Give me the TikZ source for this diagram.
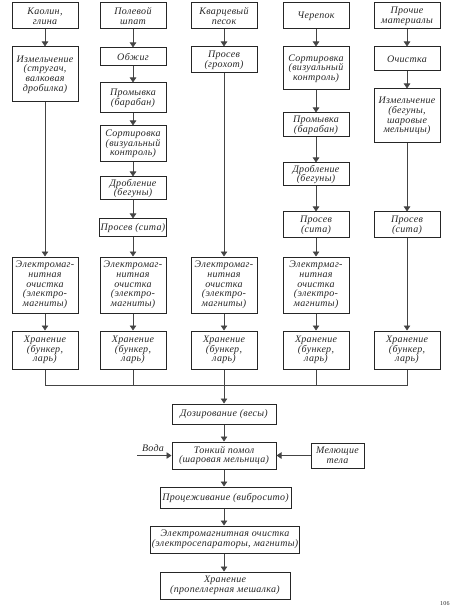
\documentclass[tikz,border=0pt]{standalone}
\usepackage{fontspec}
\setmainfont{Liberation Serif}[LetterSpace=3]
\usetikzlibrary{arrows.meta}
\definecolor{ink}{HTML}{262626}
\definecolor{lineink}{HTML}{444444}
\tikzset{
  box/.style={draw=ink, line width=1pt, text=ink, align=center, inner sep=1pt,
    font=\itshape\fontsize{10}{9.7}\selectfont},
  colbox/.style={box, minimum width=66pt},
  arr/.style={draw=lineink, line width=0.7pt, -{Triangle[length=5pt,width=6.5pt]}},
  ln/.style={draw=lineink, line width=0.7pt},
  lbl/.style={text=ink, font=\itshape\fontsize{10}{9.7}\selectfont, inner sep=0pt}
}
\begin{document}
\begin{tikzpicture}[x=1pt,y=-1pt]
\useasboundingbox (0,0) rectangle (453,609);
% column 1
\node[colbox, minimum height=26pt] (k1) at (45,16) {Каолин,\\глина};
\node[colbox, minimum height=55pt] (k2) at (45,74.5) {Измельчение\\(стругач,\\валковая\\дробилка)};
\node[colbox, minimum height=56pt] (k3) at (45,285) {Электромаг-\\нитная\\очистка\\(электро-\\магниты)};
\node[colbox, minimum height=38pt] (k4) at (45,350) {Хранение\\(бункер,\\ларь)};
% column 2
\node[colbox, minimum height=26pt] (p1) at (133,16) {Полевой\\шпат};
\node[colbox, minimum height=18pt] (p2) at (133,57) {Обжиг};
\node[colbox, minimum height=30pt] (p3) at (133,98) {Промывка\\(барабан)};
\node[colbox, minimum height=36pt] (p4) at (133,144) {Сортировка\\(визуальный\\контроль)};
\node[colbox, minimum height=23pt] (p5) at (133,188.5) {Дробление\\(бегуны)};
\node[colbox, minimum height=18pt] (p6) at (133,228) {Просев (сита)};
\node[colbox, minimum height=56pt] (p7) at (133,285) {Электромаг-\\нитная\\очистка\\(электро-\\магниты)};
\node[colbox, minimum height=38pt] (p8) at (133,350) {Хранение\\(бункер,\\ларь)};
% column 3
\node[colbox, minimum height=26pt] (q1) at (224,16) {Кварцевый\\песок};
\node[colbox, minimum height=26pt] (q2) at (224,60) {Просев\\(грохот)};
\node[colbox, minimum height=56pt] (q3) at (224,285) {Электромаг-\\нитная\\очистка\\(электро-\\магниты)};
\node[colbox, minimum height=38pt] (q4) at (224,350) {Хранение\\(бункер,\\ларь)};
% column 4
\node[colbox, minimum height=26pt] (c1) at (316,16) {Черепок};
\node[colbox, minimum height=43pt] (c2) at (316,68.5) {Сортировка\\(визуальный\\контроль)};
\node[colbox, minimum height=24pt] (c3) at (316,125) {Промывка\\(барабан)};
\node[colbox, minimum height=23pt] (c4) at (316,174.5) {Дробление\\(бегуны)};
\node[colbox, minimum height=26pt] (c5) at (316,225) {Просев\\(сита)};
\node[colbox, minimum height=56pt] (c6) at (316,285) {Электрмаг-\\нитная\\очистка\\(электро-\\магниты)};
\node[colbox, minimum height=38pt] (c7) at (316,350) {Хранение\\(бункер,\\ларь)};
% column 5
\node[colbox, minimum height=26pt] (o1) at (407,16) {Прочие\\материалы};
\node[colbox, minimum height=24pt] (o2) at (407,59) {Очистка};
\node[colbox, minimum height=54pt] (o3) at (407,116) {Измельчение\\(бегуны,\\шаровые\\мельницы)};
\node[colbox, minimum height=26pt] (o4) at (407,225) {Просев\\(сита)};
\node[colbox, minimum height=38pt] (o5) at (407,350) {Хранение\\(бункер,\\ларь)};
% central chain
\node[box, minimum width=104pt, minimum height=20pt] (d1) at (224,414) {Дозирование (весы)};
\node[box, minimum width=104pt, minimum height=27pt] (d2) at (224,455.5) {Тонкий помол\\(шаровая мельница)};
\node[box, minimum width=53pt, minimum height=25pt] (m) at (337.5,455.5) {Мелющие\\тела};
\node[box, minimum width=131pt, minimum height=21pt] (d3) at (225.5,497.5) {Процеживание (вибросито)};
\node[box, minimum width=146pt, minimum height=27pt] (d4) at (225,539.5) {Электромагнитная очистка\\(электросепараторы, магниты)};
\node[box, minimum width=130pt, minimum height=27pt] (d5) at (225,585.5) {Хранение\\(пропеллерная мешалка)};
% column arrows
\draw[arr] (k1) -- (k2);
\draw[arr] (k2) -- (k3);
\draw[arr] (k3) -- (k4);
\draw[arr] (p1) -- (p2);
\draw[arr] (p2) -- (p3);
\draw[arr] (p3) -- (p4);
\draw[arr] (p4) -- (p5);
\draw[arr] (p5) -- (p6);
\draw[arr] (p6) -- (p7);
\draw[arr] (p7) -- (p8);
\draw[arr] (q1) -- (q2);
\draw[arr] (q2) -- (q3);
\draw[arr] (q3) -- (q4);
\draw[arr] (c1) -- (c2);
\draw[arr] (c2) -- (c3);
\draw[arr] (c3) -- (c4);
\draw[arr] (c4) -- (c5);
\draw[arr] (c5) -- (c6);
\draw[arr] (c6) -- (c7);
\draw[arr] (o1) -- (o2);
\draw[arr] (o2) -- (o3);
\draw[arr] (o3) -- (o4);
\draw[arr] (o4) -- (o5);
% collecting bus
\coordinate (bus) at (224,385);
\draw[ln] (k4.south) -- (k4.south |- bus) -- (o5.south |- bus) -- (o5.south);
\draw[ln] (p8.south) -- (p8.south |- bus);
\draw[ln] (q4.south) -- (bus);
\draw[ln] (c7.south) -- (c7.south |- bus);
\draw[arr] (bus) -- (d1);
\draw[arr] (d1) -- (d2);
\coordinate (w) at (137,455.5);
\draw[arr] (w) -- (d2.west);
\node[lbl] (voda) at (153,448) {Вода};
\draw[arr] (m) -- (d2);
\draw[arr] (d2.south) -- (d2.south |- d3.north);
\draw[arr] (d3.south -| d2.south) -- (d2.south |- d4.north);
\draw[arr] (d4.south -| d2.south) -- (d2.south |- d5.north);
\node[anchor=west, text=ink, font=\fontsize{6}{6}\selectfont, inner sep=0pt] (pg) at (440,604) {106};
\end{tikzpicture}
\end{document}
